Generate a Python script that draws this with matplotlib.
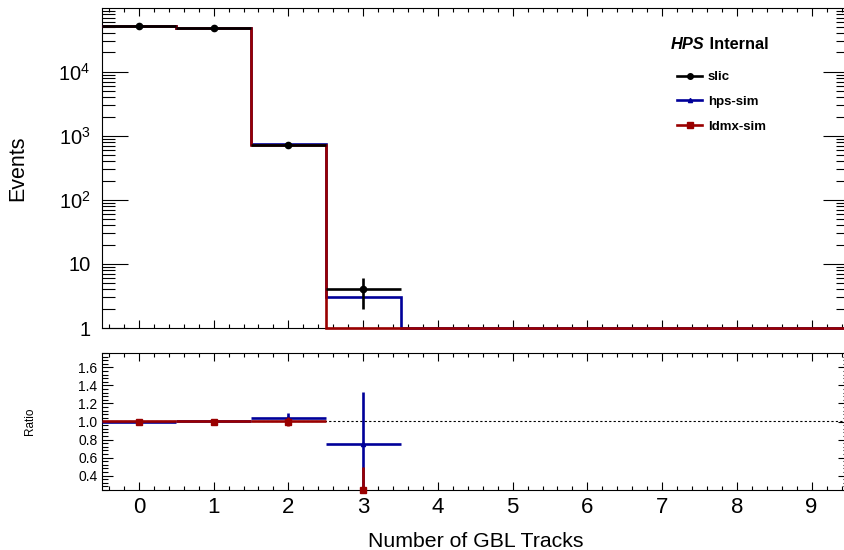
import numpy as np
import matplotlib
matplotlib.use('Agg')
import matplotlib.pyplot as plt
from matplotlib.ticker import FixedLocator, MultipleLocator, LogLocator, FuncFormatter, NullFormatter
from matplotlib.lines import Line2D

plt.rcParams['font.family'] = ['Liberation Sans', 'DejaVu Sans']
plt.rcParams['mathtext.default'] = 'regular'

# number of GBL tracks per event (bins 0..9)
n_tracks = np.arange(10)
edges = np.arange(-0.5, 10.0, 1.0)

slic = np.array([52000, 47500, 713, 4, 0, 0, 0, 0, 0, 0])
slic_err = np.array([228, 218, 27, 2, 0, 0, 0, 0, 0, 0])
hps_sim = np.array([51500, 47500, 740, 3, 0, 0, 0, 0, 0, 0])
ldmx_sim = np.array([52000, 47500, 713, 0, 0, 0, 0, 0, 0, 0])

# ratio sim / slic (only bins where slic is filled)
ratio_bins = np.array([0, 1, 2, 3])
hps_ratio = np.array([0.99, 1.0, 1.037, 0.75])
hps_ratio_err = np.array([0.006, 0.006, 0.055, 0.58])
ldmx_ratio = np.array([1.0, 1.0, 1.0, 0.0])
ldmx_ratio_err = np.array([0.006, 0.006, 0.053, 0.5])

RED = '#990000'
BLUE = '#000099'
YMIN, YMAX = 1, 9.9e4
RMIN, RMAX = 0.24, 1.76
LW = 1.9

W, H = 844, 550
fig = plt.figure(figsize=(W / 100, H / 100), dpi=100)
x0, x1 = 101.5, 849
ax = fig.add_axes([x0 / W, 1 - 328 / H, (x1 - x0) / W, 320 / H])
rax = fig.add_axes([x0 / W, 1 - 490 / H, (x1 - x0) / W, 137 / H])

# ---- top panel ----
ax.set_yscale('log')
ax.stairs(np.clip(hps_sim, YMIN, None), edges, color=BLUE, lw=LW, baseline=None,
          clip_on=False, zorder=3)
ax.stairs(np.clip(ldmx_sim, YMIN, None), edges, color=RED, lw=LW, baseline=None,
          clip_on=False, zorder=4)
m = slic > 0
ax.errorbar(n_tracks[m], slic[m], yerr=slic_err[m], xerr=0.5, fmt='o', color='black',
            ms=4.5, lw=LW, capsize=0, zorder=5)
ax.set_xlim(-0.5, 9.5)
ax.set_ylim(YMIN, YMAX)

def log_fmt(v, pos):
    if v == 1:
        return '1'
    if v == 10:
        return '10'
    return '$10^{%d}$' % round(np.log10(v))

ax.yaxis.set_major_locator(LogLocator(base=10, numticks=10))
ax.yaxis.set_minor_locator(LogLocator(base=10, subs=np.arange(2, 10), numticks=10))
ax.yaxis.set_major_formatter(FuncFormatter(log_fmt))
ax.yaxis.set_minor_formatter(NullFormatter())
ax.xaxis.set_major_locator(MultipleLocator(1))
ax.xaxis.set_minor_locator(MultipleLocator(0.2))
ax.tick_params(axis='both', which='both', direction='in', top=True, right=True, width=0.8)
ax.tick_params(axis='x', which='major', length=6, labelbottom=False)
ax.tick_params(axis='x', which='minor', length=3)
ax.tick_params(axis='y', which='major', length=19, labelsize=14.5, pad=8)
ax.tick_params(axis='y', which='minor', length=9.5)
ax.set_ylabel('Events', fontsize=15.5)
ax.yaxis.set_label_coords(-0.098, 0.5)

hps_txt = ax.text(0.762, 0.871, 'HPS', transform=ax.transAxes, fontsize=11.8,
                  fontweight='bold', fontstyle='italic', va='baseline')
ax.annotate(' Internal', xy=(1, 0), xycoords=hps_txt, fontsize=11.8,
            fontweight='bold', va='bottom')

handles = [
    Line2D([], [], color='black', marker='o', ms=4, lw=LW),
    Line2D([], [], color=BLUE, marker='^', ms=3, lw=LW),
    Line2D([], [], color=RED, marker='s', ms=4, lw=LW),
]
leg = ax.legend(handles, ['slic', 'hps-sim', 'ldmx-sim'], loc='upper left',
                bbox_to_anchor=(677 / W, 1 - 71 / H), bbox_transform=fig.transFigure,
                frameon=False, prop={'weight': 'bold', 'size': 9.5},
                handlelength=1.9, handletextpad=0.45, labelspacing=0.95,
                borderaxespad=0, borderpad=0)

# ---- ratio panel ----
rax.axhline(1.0, color='black', lw=0.8, ls=(0, (2, 2)), zorder=1)
rax.errorbar(ratio_bins, hps_ratio, yerr=hps_ratio_err, xerr=0.5, fmt='none',
             ecolor=BLUE, lw=LW, capsize=0, zorder=3)
rax.plot(ratio_bins, np.clip(hps_ratio, RMIN, RMAX), '^', color=BLUE, ms=3,
         clip_on=False, zorder=3)
rax.errorbar(ratio_bins, ldmx_ratio, yerr=ldmx_ratio_err, xerr=0.5, fmt='none',
             ecolor=RED, lw=LW, capsize=0, zorder=4)
rax.plot(ratio_bins, np.clip(ldmx_ratio, RMIN, RMAX), 's', color=RED, ms=4.5,
         clip_on=False, zorder=5)
rax.set_xlim(-0.5, 9.5)
rax.set_ylim(RMIN, RMAX)
rax.xaxis.set_major_locator(MultipleLocator(1))
rax.xaxis.set_minor_locator(MultipleLocator(0.2))
rax.yaxis.set_major_locator(FixedLocator([0.4, 0.6, 0.8, 1.0, 1.2, 1.4, 1.6]))
rax.yaxis.set_minor_locator(MultipleLocator(0.04))
rax.yaxis.set_major_formatter(FuncFormatter(lambda v, p: '%.1f' % v))
rax.tick_params(axis='both', which='both', direction='in', top=True, right=True, width=0.8)
rax.tick_params(axis='x', which='major', length=6, labelsize=16, pad=5)
rax.tick_params(axis='x', which='minor', length=3)
rax.tick_params(axis='y', which='major', length=8, labelsize=10, pad=3)
rax.tick_params(axis='y', which='minor', length=4.5)
rax.set_ylabel('Ratio', fontsize=8.5)
rax.yaxis.set_label_coords(-0.087, 0.5)
rax.set_xlabel('Number of GBL Tracks', fontsize=15.3)
rax.xaxis.set_label_coords(0.5, -0.31)

for a in (ax, rax):
    for s in a.spines.values():
        s.set_linewidth(0.8)

fig.savefig('out.png', dpi=100)
